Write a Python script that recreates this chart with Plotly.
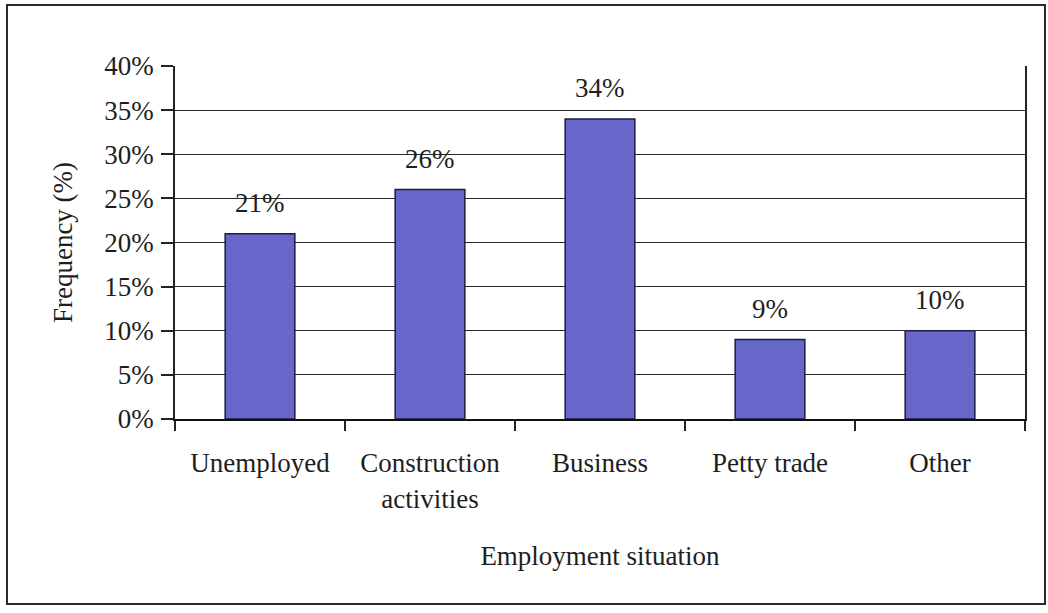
import plotly.graph_objects as go

# Employment situation of respondents (share of sample)
categories = ["Unemployed", "Construction<br>activities", "Business", "Petty trade", "Other"]
frequency_pct = [21, 26, 34, 9, 10]
y_ticks = [0, 5, 10, 15, 20, 25, 30, 35, 40]
y_tick_labels = [f"{v}%" for v in y_ticks]

FONT = "Liberation Serif, Times New Roman, serif"
TEXT = "#1e1e1e"

# plot-area geometry in pixels (used to place the outer frame)
W, H = 1048, 613
L, R, T, B = 175, 1025, 66, 419

fig = go.Figure(
    go.Bar(
        x=categories,
        y=frequency_pct,
        marker=dict(color="#6767c9", line=dict(color="#1c1c40", width=1.5)),
        width=0.41,
        hoverinfo="x+y",
    )
)

# value labels above each bar
for c, v in zip(categories, frequency_pct):
    fig.add_annotation(
        x=c, y=v, text=f"{v}%", showarrow=False,
        yanchor="middle", yshift=31,
        font=dict(family=FONT, size=27, color=TEXT),
    )

# outer frame around the whole chart
def px_x(p):
    return (p - L) / (R - L)

def px_y(p):
    return (B - p) / (B - T)

fig.add_shape(
    type="rect", xref="paper", yref="paper",
    x0=px_x(7), x1=px_x(1045), y0=px_y(604), y1=px_y(5),
    line=dict(color="#2a2a2a", width=2), fillcolor="rgba(0,0,0,0)", layer="below",
)

fig.update_layout(
    width=W, height=H,
    margin=dict(l=L, r=W - R, t=T, b=H - B, pad=0),
    paper_bgcolor="white",
    plot_bgcolor="white",
    showlegend=False,
    font=dict(family=FONT, size=27, color=TEXT),
    xaxis=dict(
        type="category",
        tickson="boundaries",
        ticks="outside", ticklen=10, tickwidth=1.5, tickcolor="#222",
        ticklabelstandoff=19,
        showline=True, linecolor="#111", linewidth=2,
        showgrid=False,
        tickfont=dict(family=FONT, size=27, color=TEXT),
        title=dict(text="Employment situation", standoff=34,
                   font=dict(family=FONT, size=27, color=TEXT)),
    ),
    yaxis=dict(
        range=[0, 40],
        tickvals=y_ticks, ticktext=y_tick_labels,
        ticks="outside", ticklen=12, tickwidth=1.5, tickcolor="#222",
        ticklabelstandoff=2,
        showline=True, linecolor="#222", linewidth=1.5, mirror=True,
        showgrid=True, gridcolor="#2a2a2a", gridwidth=1,
        zeroline=False,
        tickfont=dict(family=FONT, size=27, color=TEXT),
        title=dict(text="Frequency (%)", standoff=24,
                   font=dict(family=FONT, size=27, color=TEXT)),
    ),
)

fig.write_html("out.html")
